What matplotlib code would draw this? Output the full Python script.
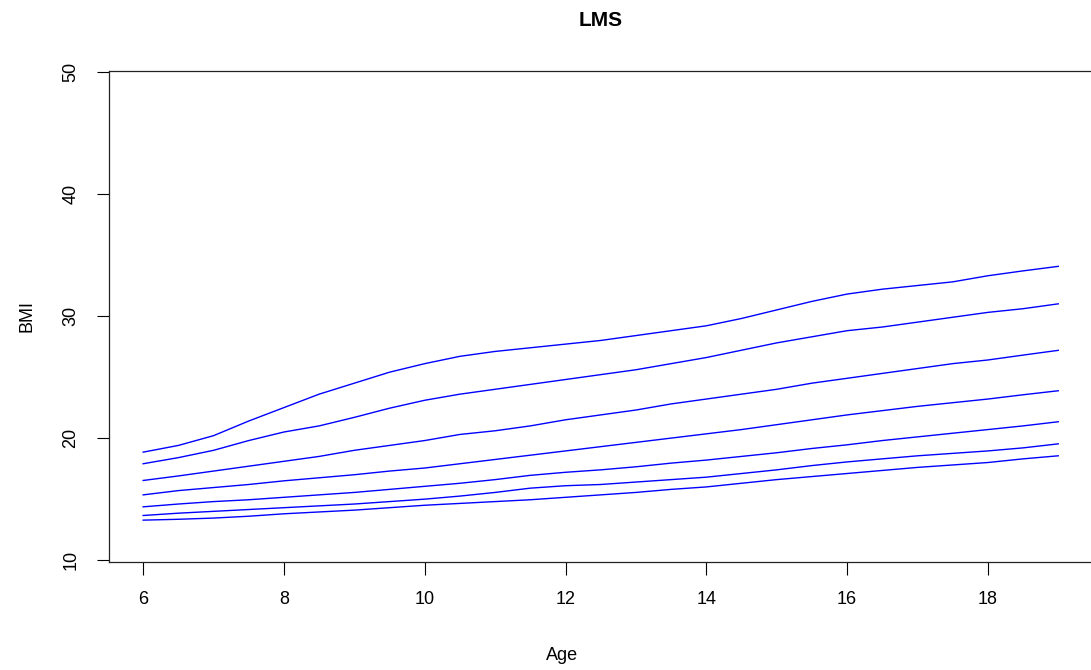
import matplotlib.pyplot as plt

plt.rcParams['font.family'] = ['Liberation Sans', 'DejaVu Sans']

# centile curves of BMI by age (LMS method)
age = [6, 6.5, 7, 7.5, 8, 8.5, 9, 9.5, 10, 10.5, 11, 11.5, 12, 12.5, 13,
       13.5, 14, 14.5, 15, 15.5, 16, 16.5, 17, 17.5, 18, 18.5, 19]

c1 = [18.85, 19.4, 20.2, 21.4, 22.5, 23.6, 24.5, 25.4, 26.1, 26.7, 27.1, 27.4, 27.7, 28.0,
      28.4, 28.8, 29.2, 29.8, 30.5, 31.2, 31.8, 32.2, 32.5, 32.8, 33.3, 33.7, 34.07]
c2 = [17.9, 18.4, 19.0, 19.8, 20.5, 21.0, 21.7, 22.45, 23.1, 23.6, 24.0, 24.4, 24.8, 25.2,
      25.6, 26.1, 26.6, 27.2, 27.8, 28.3, 28.8, 29.1, 29.5, 29.9, 30.3, 30.6, 31.0]
c3 = [16.53, 16.9, 17.3, 17.7, 18.1, 18.5, 19.0, 19.4, 19.8, 20.3, 20.6, 21.0, 21.5, 21.9,
      22.3, 22.8, 23.2, 23.6, 24.0, 24.5, 24.9, 25.3, 25.7, 26.1, 26.4, 26.8, 27.19]
c4 = [15.35, 15.7, 15.95, 16.2, 16.5, 16.75, 17.0, 17.3, 17.55, 17.9, 18.25, 18.6, 18.95,
      19.3, 19.65, 20.0, 20.35, 20.7, 21.1, 21.5, 21.9, 22.25, 22.6, 22.9, 23.2, 23.55, 23.88]
c5 = [14.37, 14.6, 14.8, 14.95, 15.15, 15.35, 15.55, 15.8, 16.05, 16.3, 16.6, 16.95, 17.2,
      17.4, 17.65, 17.95, 18.2, 18.5, 18.8, 19.15, 19.45, 19.8, 20.1, 20.4, 20.7, 21.0, 21.34]
c6 = [13.66, 13.85, 14.0, 14.15, 14.3, 14.45, 14.6, 14.8, 15.0, 15.25, 15.55, 15.9, 16.1,
      16.2, 16.4, 16.6, 16.8, 17.1, 17.4, 17.75, 18.05, 18.3, 18.55, 18.75, 18.95, 19.2, 19.53]
c7 = [13.28, 13.35, 13.45, 13.6, 13.8, 13.95, 14.1, 14.3, 14.5, 14.65, 14.8, 14.95, 15.15,
      15.35, 15.55, 15.8, 16.0, 16.3, 16.6, 16.85, 17.1, 17.35, 17.6, 17.8, 18.0, 18.3, 18.55]

fig = plt.figure(figsize=(10.91, 6.70), dpi=100)
ax = fig.add_axes([0.0996, 0.161, 0.902, 0.7335])

for c in [c1, c2, c3, c4, c5, c6, c7]:
    ax.plot(age, c, color='#0000ff', lw=1.0)

ax.set_xlim(5.51, 19.49)
ax.set_ylim(9.84, 50.1)
ax.set_xticks([6, 8, 10, 12, 14, 16, 18])
ax.set_yticks([10, 20, 30, 40, 50])
ax.tick_params(axis='both', length=9, width=0.8, labelsize=13, color='black')
ax.tick_params(axis='x', pad=12)
ax.tick_params(axis='y', pad=12)
for lab in ax.get_yticklabels():
    lab.set_rotation(90)
    lab.set_va('center')

for s in ax.spines.values():
    s.set_linewidth(0.9)
    s.set_color('#222222')

ax.set_xlabel('Age', fontsize=13, va='center')
ax.set_ylabel('BMI', fontsize=13, va='center')
ax.xaxis.set_label_coords(0.4607, -0.19)
ax.yaxis.set_label_coords(-0.0825, 0.5)
fig.text(0.5506, 0.970, 'LMS', fontsize=15, fontweight='bold', ha='center', va='center')

plt.savefig('out.png', dpi=100)
